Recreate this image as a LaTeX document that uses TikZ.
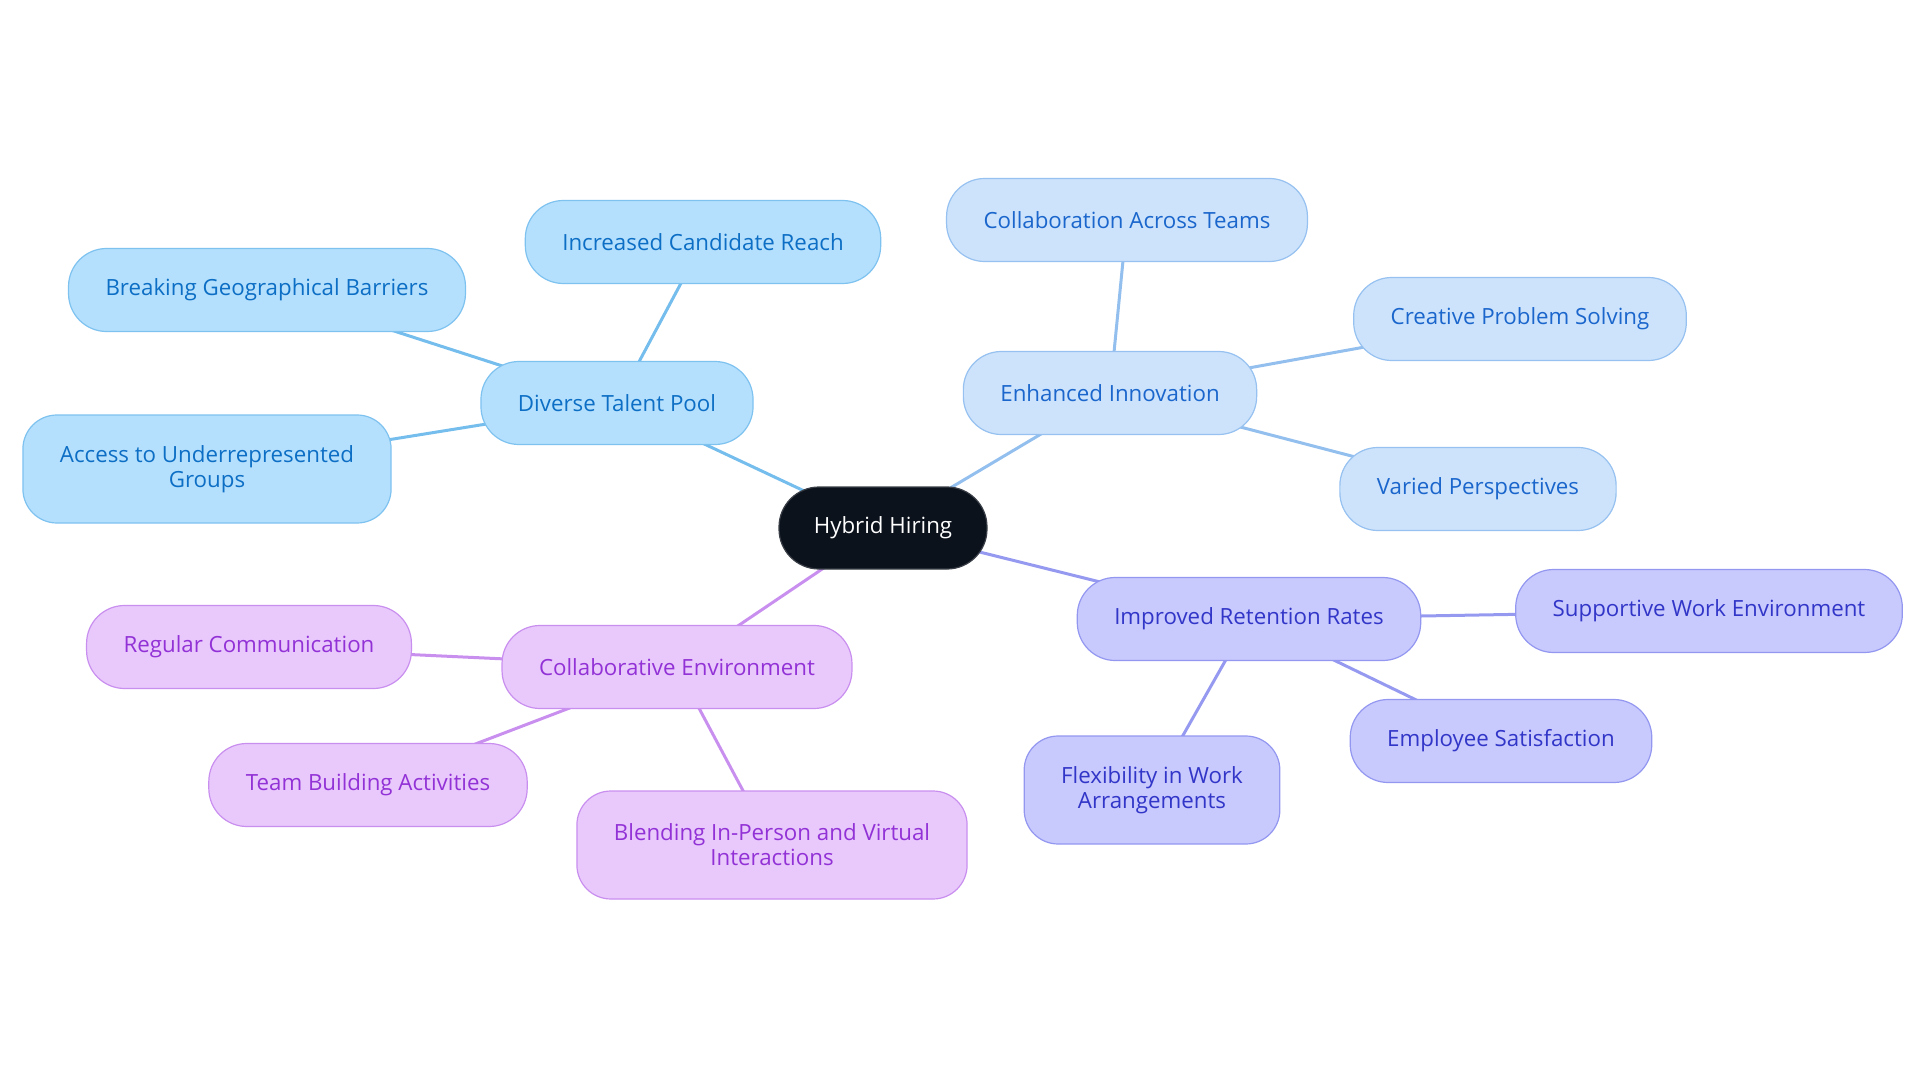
\documentclass[tikz,border=0pt]{standalone}
\usepackage{fontspec}
\setmainfont{Open Sans}
\usetikzlibrary{backgrounds}
\definecolor{bfill}{HTML}{B5E0FD}
\definecolor{bdraw}{HTML}{7EC2F0}
\definecolor{btext}{HTML}{0C6EC4}
\definecolor{bline}{HTML}{74BDEC}
\definecolor{lfill}{HTML}{CDE3FB}
\definecolor{ldraw}{HTML}{96C1F0}
\definecolor{ltext}{HTML}{1A66CC}
\definecolor{lline}{HTML}{93BFEE}
\definecolor{vfill}{HTML}{C8C9FC}
\definecolor{vdraw}{HTML}{9397F0}
\definecolor{vtext}{HTML}{3236C8}
\definecolor{vline}{HTML}{9699F0}
\definecolor{pfill}{HTML}{E9C9FC}
\definecolor{pdraw}{HTML}{C98FEF}
\definecolor{ptext}{HTML}{9232D6}
\definecolor{pline}{HTML}{C98FEF}
\definecolor{cfill}{HTML}{0C121C}
\definecolor{cdraw}{HTML}{3A3F47}
\tikzset{
  box/.style={rectangle, rounded corners=38pt, line width=1.2pt, inner xsep=37pt, inner ysep=0pt,
    minimum height=83pt, align=center, font=\fontsize{22.3}{25}\selectfont},
  tall/.style={minimum height=108pt, rounded corners=34pt},
  bnode/.style={box, fill=bfill, draw=bdraw, text=btext},
  lnode/.style={box, fill=lfill, draw=ldraw, text=ltext},
  vnode/.style={box, fill=vfill, draw=vdraw, text=vtext},
  pnode/.style={box, fill=pfill, draw=pdraw, text=ptext},
  cnode/.style={box, fill=cfill, draw=cdraw, text=white, inner xsep=30pt, minimum width=208pt, minimum height=82pt, rounded corners=40pt},
  bedge/.style={draw=bline, line width=3pt},
  ledge/.style={draw=lline, line width=3pt},
  vedge/.style={draw=vline, line width=3pt},
  pedge/.style={draw=pline, line width=3pt},
}
\begin{document}
\begin{tikzpicture}[x=1pt,y=-1pt]
\useasboundingbox (0,0) rectangle (1920,1083);
\node[cnode] (hh) at (883,528) {Hybrid Hiring};
\node[bnode] (dtp) at (617,403) {Diverse Talent Pool};
\node[bnode] (icr) at (703,242) {Increased Candidate Reach};
\node[bnode] (bgb) at (267,290) {Breaking Geographical Barriers};
\node[bnode, tall] (aug) at (207,469) {Access to Underrepresented\\Groups};
\node[lnode] (ei) at (1110,393) {Enhanced Innovation};
\node[lnode] (cat) at (1127,220) {Collaboration Across Teams};
\node[lnode] (cps) at (1520,319) {Creative Problem Solving};
\node[lnode] (vp) at (1478,489) {Varied Perspectives};
\node[vnode] (irr) at (1249,619) {Improved Retention Rates};
\node[vnode] (swe) at (1709,611) {Supportive Work Environment};
\node[vnode] (es) at (1501,741) {Employee Satisfaction};
\node[vnode, tall] (fwa) at (1152,790) {Flexibility in Work\\Arrangements};
\node[pnode] (ce) at (677,667) {Collaborative Environment};
\node[pnode] (rc) at (249,647) {Regular Communication};
\node[pnode] (tba) at (368,785) {Team Building Activities};
\node[pnode, tall] (bip) at (772,845) {Blending In-Person and Virtual\\Interactions};
\begin{scope}[on background layer]
\draw[bedge] (hh.center) -- (dtp.center);
\draw[ledge] (hh.center) -- (ei.center);
\draw[vedge] (hh.center) -- (irr.center);
\draw[pedge] (hh.center) -- (ce.center);
\draw[bedge] (dtp.center) -- (icr.center);
\draw[bedge] (dtp.center) -- (bgb.center);
\draw[bedge] (dtp.center) -- (aug.center);
\draw[ledge] (ei.center) -- (cat.center);
\draw[ledge] (ei.center) -- (cps.center);
\draw[ledge] (ei.center) -- (vp.center);
\draw[vedge] (irr.center) -- (swe.center);
\draw[vedge] (irr.center) -- (es.center);
\draw[vedge] (irr.center) -- (fwa.center);
\draw[pedge] (ce.center) -- (rc.center);
\draw[pedge] (ce.center) -- (tba.center);
\draw[pedge] (ce.center) -- (bip.center);
\end{scope}
\end{tikzpicture}
\end{document}
